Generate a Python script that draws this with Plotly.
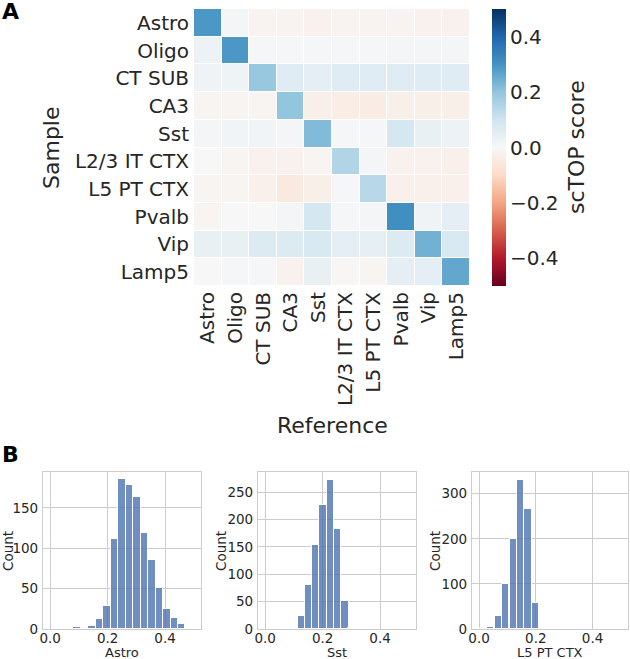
import plotly.graph_objects as go

# cell types, rows = sample, columns = reference
cell_types = ["Astro", "Oligo", "CT SUB", "CA3", "Sst", "L2/3 IT CTX",
              "L5 PT CTX", "Pvalb", "Vip", "Lamp5"]

# mean scTOP score per sample (row) vs reference (column)
score_astro = [0.29, 0.01, -0.015, -0.015, -0.02, -0.015, -0.015, -0.015, -0.02, -0.02]
score_oligo = [0.03, 0.29, 0.005, 0.005, 0.005, 0.005, 0.005, 0.01, 0.01, 0.01]
score_ctsub = [0.02, 0.025, 0.19, 0.06, 0.05, 0.06, 0.06, 0.06, 0.06, 0.06]
score_ca3 = [-0.01, -0.01, -0.01, 0.2, -0.03, -0.035, -0.04, -0.03, -0.03, -0.03]
score_sst = [0.01, 0.015, 0.015, 0.01, 0.22, 0.005, 0.005, 0.09, 0.04, 0.03]
score_l23 = [0.0, -0.01, -0.02, -0.02, -0.01, 0.15, 0.01, -0.02, -0.02, -0.025]
score_l5pt = [-0.01, -0.01, -0.025, -0.05, -0.03, 0.005, 0.14, -0.025, -0.025, -0.025]
score_pvalb = [-0.01, 0.0, 0.0, 0.01, 0.09, 0.005, 0.01, 0.31, 0.02, 0.05]
score_vip = [0.04, 0.04, 0.07, 0.07, 0.08, 0.05, 0.045, 0.07, 0.24, 0.08]
score_lamp5 = [0.0, 0.005, 0.005, -0.02, 0.04, -0.005, -0.01, 0.05, 0.05, 0.26]

cbar_ticks = [-0.4, -0.2, 0.0, 0.2, 0.4]

# histogram bins (left edges) and counts
astro_edges = [0.055, 0.081, 0.107, 0.133, 0.159, 0.185, 0.211, 0.237,
               0.263, 0.289, 0.315, 0.341, 0.367, 0.393, 0.419, 0.445]
astro_counts = [1, 3, 1, 4, 13, 29, 112, 186, 178, 163, 119, 86, 51, 25, 14, 6]

sst_edges = [0.089, 0.114, 0.139, 0.164, 0.189, 0.214, 0.240, 0.265, 0.290]
sst_counts = [1, 23, 81, 154, 226, 273, 183, 52, 1]

l5pt_edges = [0.002, 0.028, 0.055, 0.081, 0.108, 0.133, 0.159, 0.186]
l5pt_counts = [2, 4, 29, 100, 199, 331, 266, 57]

rdbu = ['rgb(103,0,31)', 'rgb(178,24,43)', 'rgb(214,96,77)', 'rgb(244,165,130)',
        'rgb(253,219,199)', 'rgb(247,247,247)', 'rgb(209,229,240)', 'rgb(146,197,222)',
        'rgb(67,147,195)', 'rgb(33,102,172)', 'rgb(5,48,97)']

W, H = 630, 659
FONT = "DejaVu Sans"
TXT = "#262626"


def px_x(v):
    return v / W


def px_y(v):
    return 1 - v / H


z = [score_astro, score_oligo, score_ctsub, score_ca3, score_sst,
     score_l23, score_l5pt, score_pvalb, score_vip, score_lamp5]

fig = go.Figure()

fig.add_trace(go.Heatmap(
    z=z, x=cell_types, y=cell_types,
    zmin=-0.5, zmax=0.5,
    colorscale=rdbu,
    xgap=1, ygap=1,
    colorbar=dict(
        x=px_x(492), xanchor="left", xpad=0, ypad=0,
        y=px_y(147.5), yanchor="middle",
        len=277, lenmode="pixels", thickness=14,
        outlinewidth=0, ticks="", showticklabels=False,
    ),
    xaxis="x", yaxis="y",
))

# empty trace to carry the colorbar tick axis
fig.add_trace(go.Scatter(x=[], y=[], xaxis="x5", yaxis="y5", showlegend=False))

# histograms
hists = [(astro_edges, astro_counts, 0.026, "x2", "y2"),
         (sst_edges, sst_counts, 0.0253, "x3", "y3"),
         (l5pt_edges, l5pt_counts, 0.0261, "x4", "y4")]
for edges, counts, w, xa, ya in hists:
    fig.add_trace(go.Bar(
        x=edges, y=counts, width=w, offset=0,
        marker=dict(color="rgba(76,114,176,0.8)",
                    line=dict(color="white", width=1)),
        xaxis=xa, yaxis=ya, showlegend=False,
    ))

axis_font = dict(family=FONT, size=20, color=TXT)
small_font = dict(family=FONT, size=13.5, color=TXT)

layout = dict(
    width=W, height=H,
    margin=dict(l=0, r=0, t=0, b=0, autoexpand=False),
    paper_bgcolor="white", plot_bgcolor="white",
    showlegend=False,
    bargap=0,
    xaxis=dict(domain=[px_x(194), px_x(470)], anchor="y",
               tickangle=-90, ticks="", ticklabelstandoff=1,
               tickfont=axis_font, showgrid=False, zeroline=False),
    yaxis=dict(domain=[px_y(286), px_y(9)], anchor="x",
               autorange="reversed", ticks="", ticklabelstandoff=4,
               tickfont=axis_font, showgrid=False, zeroline=False),
    xaxis5=dict(domain=[px_x(492), px_x(506)], anchor="y5", visible=False),
    yaxis5=dict(domain=[px_y(286), px_y(9)], anchor="free", position=px_x(506),
                side="right", range=[-0.5, 0.5], tickvals=cbar_ticks,
                tickformat=".1f", ticks="", ticklabelstandoff=3,
                showgrid=False, zeroline=False, showline=False,
                tickfont=axis_font),
)

hist_domains = [(43, 201), (258, 416), (472, 628)]
hist_yticks = [[0, 50, 100, 150], [0, 50, 100, 150, 200, 250], [0, 100, 200, 300]]
hist_ymax = [194.5, 287, 348]
for i, ((x0, x1), yt, ym) in enumerate(zip(hist_domains, hist_yticks, hist_ymax)):
    n = i + 2
    common = dict(showline=True, mirror=True, linecolor="#cccccc", linewidth=1.2,
                  showgrid=True, gridcolor="#cccccc", gridwidth=1,
                  zeroline=False, ticks="", tickfont=small_font)
    layout["xaxis%d" % n] = dict(domain=[px_x(x0), px_x(x1)], anchor="y%d" % n,
                                 range=[-0.025, 0.525], tickvals=[0, 0.2, 0.4],
                                 tickformat=".1f", ticklabelstandoff=-3, **common)
    layout["yaxis%d" % n] = dict(domain=[px_y(629), px_y(472)], anchor="x%d" % n,
                                 range=[0, ym], tickvals=yt, ticklabelstandoff=1,
                                 **common)

fig.update_layout(**layout)

ann = []


def label(text, x, y, size, angle=0, bold=False, xanchor="center", yanchor="middle"):
    ann.append(dict(text="<b>%s</b>" % text if bold else text,
                    x=px_x(x), y=px_y(y), xref="paper", yref="paper",
                    xanchor=xanchor, yanchor=yanchor, textangle=angle,
                    showarrow=False, font=dict(family=FONT, size=size, color="black" if bold else TXT)))


label("A", 0, 12, 22, bold=True, xanchor="left")
label("B", 0, 454, 22, bold=True, xanchor="left")
label("Sample", 52, 148, 22, angle=-90)
label("Reference", 332, 426, 22)
label("scTOP score", 577, 147, 22, angle=-90)
for cx, t in [(122, "Astro"), (337, "Sst"), (550, "L5 PT CTX")]:
    label(t, cx, 652.5, 13)
for cx in [8, 221, 435]:
    label("Count", cx, 551, 13.5, angle=-90)

fig.update_layout(annotations=ann)

fig.write_html("out.html", config={"displayModeBar": False},
               post_script="document.body.style.margin='0px';")
